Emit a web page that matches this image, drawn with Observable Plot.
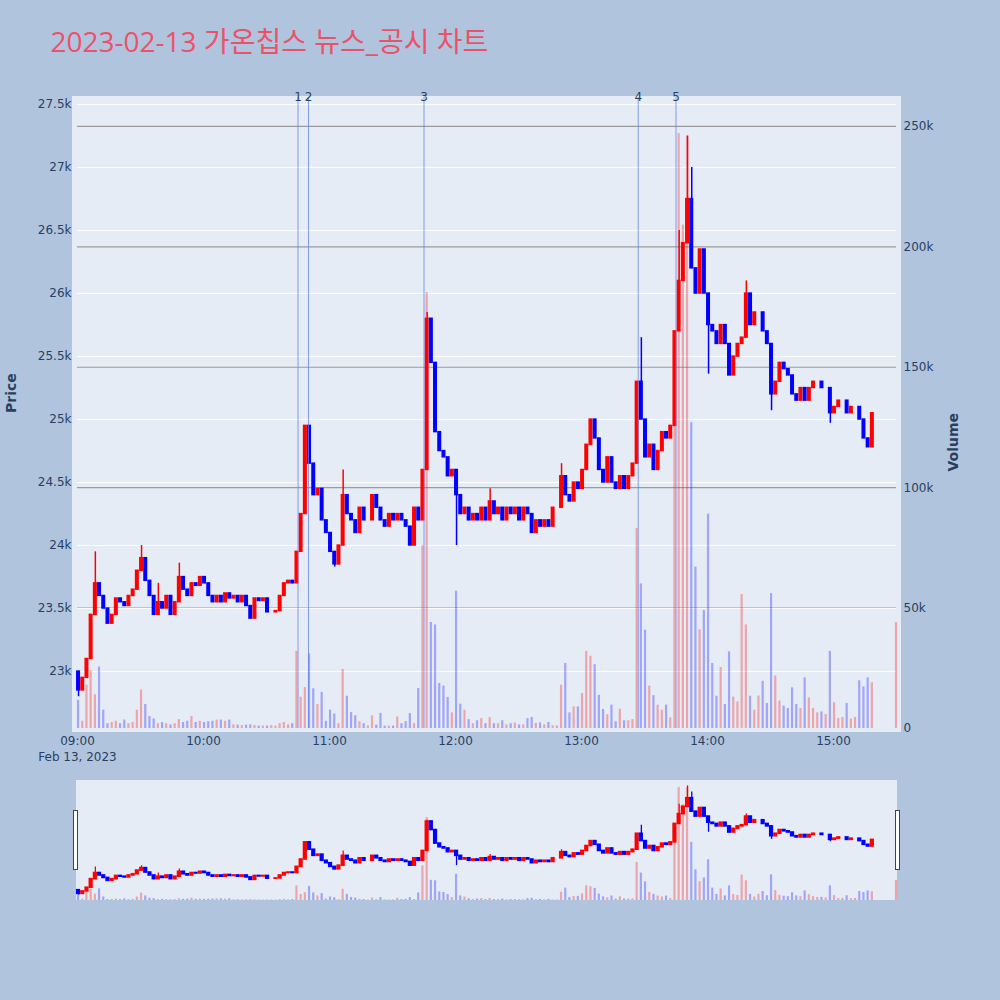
<!DOCTYPE html>
<html><head><meta charset="utf-8">
<script src="https://cdn.jsdelivr.net/npm/d3@7"></script>
<script src="https://cdn.jsdelivr.net/npm/@observablehq/plot@0.6"></script>
<style>
html,body{margin:0;padding:0;background:#B0C4DE;}
#wrap{position:relative;width:1000px;height:1000px;background:#B0C4DE;overflow:hidden;}
#wrap svg{display:block;overflow:visible;}
</style></head>
<body><div id="wrap"></div>
<script>
// ---------------- data ----------------
const titleText = "2023-02-13 가온칩스 뉴스_공시 차트";
const dateLabel = "Feb 13, 2023";
const sessionStart = "09:00";
const sessionEnd = "15:30";
const stepMinutes = 2;               // one candle per 2 minutes, starting 09:00
const firstOpen = 23000;
const closes = [
22850,22950,23100,23450,23700,23600,23500,23380,23450,23580,
23550,23520,23600,23650,23800,23900,23720,23600,23450,23550,
23500,23600,23450,23550,23750,23650,23600,23700,23680,23750,
23700,23600,23550,23600,23550,23620,23580,23600,23550,23600,
23520,23420,23580,23560,23580,23470,23470,23480,23600,23700,
23720,23700,23950,24250,24950,24650,24400,24450,24200,24100,
23950,23850,24000,24400,24250,24200,24100,24300,24200,24200,
24400,24300,24200,24150,24250,24200,24250,24200,24150,24000,
24300,24200,24600,25800,25450,24900,24750,24700,24550,24600,
24400,24250,24300,24200,24250,24200,24300,24200,24350,24250,
24300,24200,24300,24250,24300,24200,24300,24250,24100,24200,
24150,24200,24150,24300,24300,24550,24400,24350,24500,24450,
24600,24800,25000,24850,24600,24500,24700,24500,24450,24550,
24450,24550,24650,25300,25000,24700,24800,24600,24750,24900,
24850,24950,25700,26100,26400,26750,26200,26000,26350,26000,
25750,25700,25600,25750,25600,25350,25500,25600,25650,26000,
25750,25850,25850,25700,25600,25200,25300,25450,25400,25350,
25200,25150,25250,25150,25250,25300,25300,25250,25250,25050,
25100,25150,25150,25050,25100,25100,25000,24850,24780,25050
];
const volumes = [
11700,3000,18000,24000,14000,25500,7600,2000,2500,3000,
2000,3500,2000,2500,7600,16000,10000,5000,4000,2000,
2500,2000,1500,2000,3700,2500,3000,5000,2500,3000,
2500,2800,3000,3500,3500,3000,3500,1500,1400,1200,
1400,1500,1300,1000,1000,1000,1200,1000,2000,2500,
1500,2000,32000,13000,17000,31000,16500,10000,15000,3000,
7600,6000,2000,24500,13400,6600,5300,2800,2000,1100,
5200,1400,6300,1000,1000,1000,4800,2000,2800,6200,
2000,16600,76000,181000,44000,43000,18700,17600,12900,6500,
57000,10100,7600,3700,2000,3200,4100,2000,4500,2000,
2000,3200,1500,2000,2300,1500,1500,4100,4600,2100,
2300,1500,2500,1100,1100,18000,27000,6500,9000,9000,
14500,32000,30000,26500,13800,7900,5700,9700,2800,8000,
3200,3200,3700,83000,60000,40800,17600,13600,9700,7600,
9700,4400,157000,247000,209000,246000,127000,67000,41000,49000,
89000,27000,13400,25300,10000,31800,13000,11000,55600,43000,
13400,7600,13500,19600,10400,56000,21800,11400,9300,8300,
16900,10000,8300,21000,12700,8300,6500,6900,5800,32000,
10700,4100,4600,10400,3900,4600,19800,17300,21000,19000
];
// closing auction print at 15:30
const closingTime = "15:30";
const closingPrice = 25100;
const closingVolume = 44000;
// long wicks: [candle start time, high, low]
const wicks = [
["09:00", null, 22800], ["09:08", 23950, null], ["09:30", 24000, null],
["09:38", 23700, null], ["09:48", 23860, null], ["10:48", 24950, null],
["11:02", null, 23830], ["11:06", 24600, null], ["11:46", 25850, null],
["12:00", null, 24000], ["12:16", 24450, null], ["12:50", 24650, null],
["13:28", 25650, null], ["13:46", 26500, null], ["13:50", 27250, null],
["13:52", 27000, null], ["14:00", null, 25360], ["14:18", 26100, null],
["14:30", null, 25070], ["14:58", null, 24970]
];
const eventLabels = ["1", "2", "3", "4", "5"];
const eventTimes = ["10:45", "10:50", "11:45", "13:27", "13:45"];
const hourTicks = ["09:00", "10:00", "11:00", "12:00", "13:00", "14:00", "15:00"];
const priceTicks = [23000, 23500, 24000, 24500, 25000, 25500, 26000, 26500, 27000, 27500];
const volumeTicks = [0, 50000, 100000, 150000, 200000, 250000];
const priceDomain = [22548, 27556];
const sliderPriceDomain = [22580, 27470];
const volumeDomain = [0, 262000];

// ---------------- helpers ----------------
const day0 = Date.UTC(2023, 1, 13, 0, 0);
const toMin = s => { const [h, m] = s.split(":").map(Number); return h * 60 + m; };
const at = m => new Date(day0 + m * 60000);
const startMin = toMin(sessionStart);
const RED = "#ff0000", BLUE = "#0000ff";
const fontFamily = "'DejaVu Sans', 'Noto Sans CJK KR', sans-serif";
const titleFont = "'Open Sans', 'Noto Sans CJK KR', sans-serif";
const axisColor = "#2a3f5f";

const candles = closes.map((c, i) => {
  const m = startMin + i * stepMinutes;
  const open = i === 0 ? firstOpen : closes[i - 1];
  return {start: at(m - 0.5), end: at(m + stepMinutes - 0.5), mid: at(m + (stepMinutes - 1) / 2),
          open, close: c, up: c >= open, vol: volumes[i], key: m};
});
const cm = toMin(closingTime);
candles.push({start: at(cm - 1), end: at(cm + 1), mid: at(cm), open: closingPrice, close: closingPrice,
              up: true, vol: closingVolume, key: cm});
const byKey = new Map(candles.map(d => [d.key, d]));
const wickRows = wicks.map(([t, hi, lo]) => {
  const c = byKey.get(toMin(t));
  return {x: c.mid, y1: lo ?? Math.min(c.open, c.close), y2: hi ?? Math.max(c.open, c.close), up: c.up};
});
const events = eventTimes.map((t, i) => ({x: at(toMin(t)), label: eventLabels[i]}));
const xDomain = [at(startMin), at(toMin(sessionEnd))];
const col = d => d.up ? RED : BLUE;

const wrap = document.getElementById("wrap");
function place(node, top) {
  node.style.position = "absolute"; node.style.left = "0px"; node.style.top = top + "px";
  wrap.appendChild(node);
}
function box(left, top, w, h, css) {
  const d = document.createElement("div");
  Object.assign(d.style, {position: "absolute", left: left + "px", top: top + "px", width: w + "px", height: h + "px", boxSizing: "border-box"}, css);
  wrap.appendChild(d);
}
const style = {background: "transparent", fontFamily, fontSize: "12px", color: axisColor, overflow: "visible"};
const mainFrame = {width: 1000, height: 770, marginTop: 97, marginBottom: 42, marginLeft: 77, marginRight: 104, style};

// ---------------- main chart ----------------
box(72, 96, 829, 636, {background: "#E5ECF6"});

// layer 0: volume gridlines
place(Plot.plot({
  ...mainFrame,
  x: {type: "utc", domain: xDomain, axis: null},
  y: {domain: volumeDomain, axis: null},
  marks: [Plot.ruleY(volumeTicks.filter(v => v > 0), {stroke: "#9b9b9b", strokeWidth: 1.2})]
}), 0);

// layer 1: price candles + axes
place(Plot.plot({
  ...mainFrame,
  x: {type: "utc", domain: xDomain, axis: null},
  y: {domain: priceDomain, axis: null},
  marks: [
    Plot.gridY(priceTicks, {stroke: "white", strokeOpacity: 1, strokeWidth: 1}),
    Plot.axisY(priceTicks, {tickFormat: d3.format("~s"), tickSize: 0, tickPadding: 6, label: null, fontSize: 12, fill: axisColor}),
    Plot.axisX(hourTicks.map(s => at(toMin(s))), {tickFormat: d3.utcFormat("%H:%M"), tickSize: 0, tickPadding: 8, label: null, fontSize: 12, fill: axisColor}),
    Plot.text([{x: at(startMin), t: dateLabel}], {x: "x", text: "t", frameAnchor: "bottom", dy: 29, lineAnchor: "middle", fontSize: 12, fill: axisColor}),
    Plot.text(["Price"], {frameAnchor: "left", dx: -66, rotate: -90, fontSize: 14, fontWeight: "bold", fill: axisColor}),
    Plot.text([titleText], {frameAnchor: "top-left", dx: -27, dy: -46, textAnchor: "start", lineAnchor: "bottom", fontSize: 28, fontFamily: titleFont, fill: "#E9536A"}),
    Plot.ruleX(wickRows, {x: "x", y1: "y1", y2: "y2", stroke: col, strokeWidth: 1.5}),
    Plot.rect(candles, {x1: "start", x2: "end", y1: "open", y2: "close", fill: col, stroke: col, strokeWidth: 1.4, insetLeft: 0.8, insetRight: 0.8})
  ]
}), 0);

// layer 2: volume bars, event lines, right axis
place(Plot.plot({
  ...mainFrame,
  x: {type: "utc", domain: xDomain, axis: null},
  y: {domain: volumeDomain, axis: null},
  marks: [
    Plot.rectY(candles, {x1: "start", x2: "end", y: "vol", fill: col, fillOpacity: 0.3, insetLeft: 1, insetRight: 1}),
    Plot.ruleX(events, {x: "x", stroke: "#5f82ee", strokeOpacity: 0.75, strokeWidth: 1}),
    Plot.text(events, {x: "x", text: "label", frameAnchor: "top", lineAnchor: "middle", fontSize: 12, fill: axisColor}),
    Plot.axisY(volumeTicks, {anchor: "right", tickFormat: d3.format("~s"), tickSize: 0, tickPadding: 7, label: null, fontSize: 12, fill: axisColor}),
    Plot.text(["Volume"], {frameAnchor: "right", dx: 57, rotate: -90, fontSize: 14, fontWeight: "bold", fill: axisColor})
  ]
}), 0);

// ---------------- range slider ----------------
box(76, 780, 821, 120, {background: "#E5ECF6"});
const sliderFrame = {width: 1000, height: 140, marginTop: 10, marginBottom: 10, marginLeft: 77, marginRight: 104, style};
place(Plot.plot({
  ...sliderFrame,
  x: {type: "utc", domain: xDomain, axis: null},
  y: {domain: sliderPriceDomain, axis: null},
  marks: [
    Plot.ruleX(wickRows, {x: "x", y1: "y1", y2: "y2", stroke: col, strokeWidth: 1.3}),
    Plot.rect(candles, {x1: "start", x2: "end", y1: "open", y2: "close", fill: col, stroke: col, strokeWidth: 1.6, insetLeft: 0.8, insetRight: 0.8})
  ]
}), 770);
place(Plot.plot({
  ...sliderFrame,
  x: {type: "utc", domain: xDomain, axis: null},
  y: {domain: volumeDomain, axis: null},
  marks: [
    Plot.rectY(candles, {x1: "start", x2: "end", y: "vol", fill: col, fillOpacity: 0.3, insetLeft: 1, insetRight: 1})
  ]
}), 770);
box(73, 810, 5, 60, {background: "#ffffff", border: "1px solid #444"});
box(895, 810, 5, 60, {background: "#ffffff", border: "1px solid #444"});
</script>
</body></html>
